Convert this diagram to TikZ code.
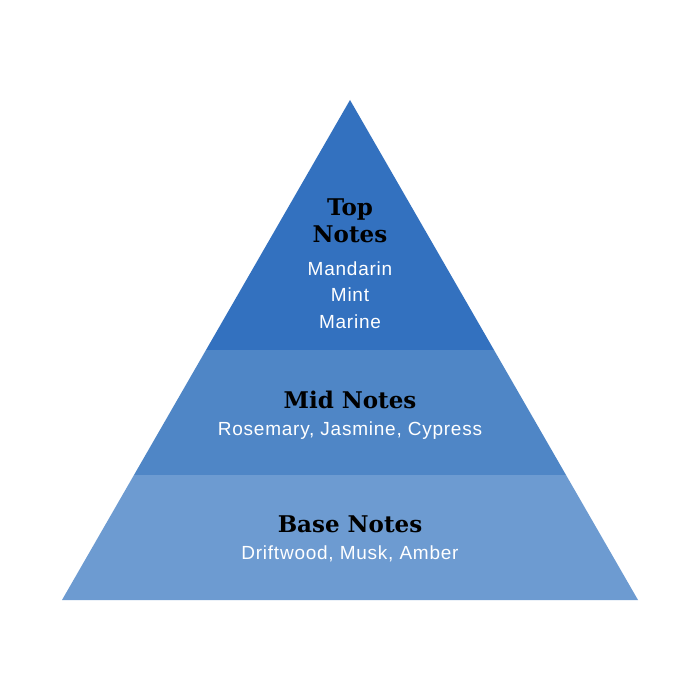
\documentclass[tikz,border=0pt]{standalone}
\usepackage{fontspec}
\setmainfont{DejaVu Serif}
\newfontfamily\bodyfont[LetterSpace=4]{Liberation Sans}
\newfontfamily\headfont{DejaVu Serif}
\definecolor{topblue}{HTML}{3371BF}
\definecolor{midblue}{HTML}{4F86C6}
\definecolor{baseblue}{HTML}{6D9BD1}
\begin{document}
\begin{tikzpicture}[x=1pt,y=-1pt,
  head/.style={font=\headfont\bfseries\fontsize{23}{27}\selectfont, text=black, align=center, inner sep=0pt},
  body/.style={font=\bodyfont\fontsize{19}{26.5}\selectfont, text=white, align=center, inner sep=0pt}]
\useasboundingbox[fill=white] (0,0) rectangle (700,700);
\coordinate (apex) at (350,100);
\coordinate (tl) at (206,350);
\coordinate (tr) at (494,350);
\coordinate (ml) at (134,475);
\coordinate (mr) at (566,475);
\coordinate (bl) at (62,600);
\coordinate (br) at (638,600);
\fill[topblue] (apex) -- (tr) -- (tl) -- cycle;
\fill[midblue] (tl) -- (tr) -- (mr) -- (ml) -- cycle;
\fill[baseblue] (ml) -- (mr) -- (br) -- (bl) -- cycle;
\node[head] (toph) at (350,221) {Top\\Notes};
\node[body] (topb) at (350,295) {Mandarin\\Mint\\Marine};
\node[head] (midh) at (350,400) {Mid Notes};
\node[body] (midb) at (350,431) {Rosemary, Jasmine, Cypress};
\node[head] (baseh) at (350,524) {Base Notes};
\node[body] (baseb) at (350,554) {Driftwood, Musk, Amber};
\end{tikzpicture}
\end{document}
